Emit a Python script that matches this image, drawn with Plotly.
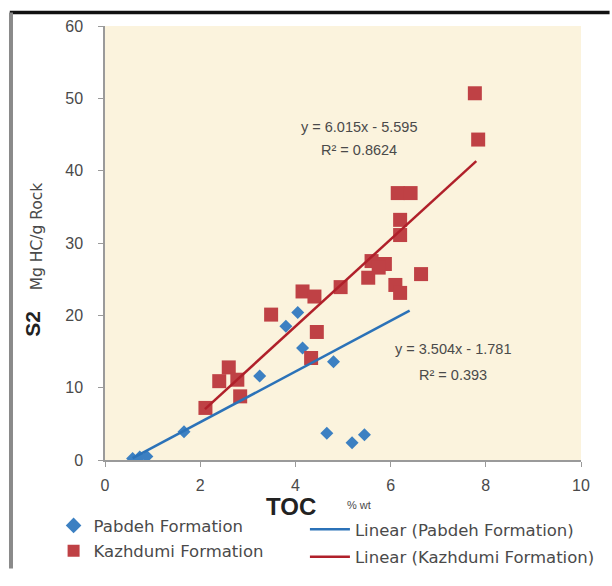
import numpy as np
import plotly.graph_objects as go

# ---- data ----
pabdeh_toc = [0.58, 0.73, 0.88, 1.66, 3.25, 3.8, 4.05, 4.15, 4.33, 4.8, 4.66, 5.19, 5.45]
pabdeh_s2 = [0.2, 0.4, 0.5, 3.9, 11.6, 18.5, 20.4, 15.5, 14.1, 13.6, 3.7, 2.4, 3.5]

kazh_toc = [2.11, 2.4, 2.6, 2.78, 2.84, 3.49, 4.15, 4.4, 4.45, 4.33, 4.95, 5.53, 5.6,
            5.88, 5.75, 6.1, 6.2, 6.64, 6.2, 6.2, 6.15, 6.42, 7.77, 7.84]
kazh_s2 = [7.2, 10.9, 12.8, 11.1, 8.8, 20.1, 23.3, 22.6, 17.7, 14.1, 23.9, 25.2, 27.5,
           27.1, 26.6, 24.2, 23.1, 25.7, 31.1, 33.2, 36.9, 36.9, 50.7, 44.3]

pabdeh_fit = [3.504, -1.781]   # slope, intercept
pabdeh_fit_range = [0.58, 6.4]
kazh_fit = [6.015, -5.595]
kazh_fit_range = [2.1, 7.8]

x_ticks = [0, 2, 4, 6, 8, 10]
y_ticks = [0, 10, 20, 30, 40, 50, 60]

BLUE = "#3C80C2"
RED = "#BF4145"
BLUE_LINE = "#2B72B8"
RED_LINE = "#B0202A"
TXT = "#4a4a4a"
FONT = "Liberation Sans"
LFONT = "DejaVu Sans"

fig = go.Figure()

fig.add_trace(go.Scatter(
    x=pabdeh_toc, y=pabdeh_s2, mode="markers", name="Pabdeh Formation",
    marker=dict(symbol="diamond", size=10, color=BLUE), legend="legend",
    legendgroup="a"))
fig.add_trace(go.Scatter(
    x=kazh_toc, y=kazh_s2, mode="markers", name="Kazhdumi Formation",
    marker=dict(symbol="square", size=14, color=RED), legend="legend",
    legendgroup="b"))

px = np.array(pabdeh_fit_range)
fig.add_trace(go.Scatter(
    x=px, y=pabdeh_fit[0] * px + pabdeh_fit[1], mode="lines",
    name="Linear (Pabdeh Formation)", line=dict(color=BLUE_LINE, width=2.5),
    legend="legend2", legendgroup="c"))
kx = np.array(kazh_fit_range)
fig.add_trace(go.Scatter(
    x=kx, y=kazh_fit[0] * kx + kazh_fit[1], mode="lines",
    name="Linear (Kazhdumi Formation)", line=dict(color=RED_LINE, width=2.5),
    legend="legend2", legendgroup="d"))

ann_font = dict(size=14.5, color=TXT, family=FONT)
fig.add_annotation(x=5.34, y=46.0, xref="x", yref="y", showarrow=False,
                   text="y = 6.015x - 5.595", font=ann_font)
fig.add_annotation(x=5.34, y=42.8, xref="x", yref="y", showarrow=False,
                   text="R² = 0.8624", font=ann_font)
fig.add_annotation(x=7.31, y=15.3, xref="x", yref="y", showarrow=False,
                   text="y = 3.504x - 1.781", font=ann_font)
fig.add_annotation(x=7.31, y=11.8, xref="x", yref="y", showarrow=False,
                   text="R² = 0.393", font=ann_font)

# axis titles
fig.add_annotation(x=-0.154, y=0.313, xref="paper", yref="paper", showarrow=False,
                   xanchor="center", yanchor="middle",
                   text="<b>S2</b>", textangle=-90,
                   font=dict(size=21, color="#222", family=FONT))
fig.add_annotation(x=-0.141, y=0.515, xref="paper", yref="paper", showarrow=False,
                   xanchor="center", yanchor="middle",
                   text="Mg HC/g Rock", textangle=-90,
                   font=dict(size=15.5, color=TXT, family=LFONT))
fig.add_annotation(x=0.39, y=-0.108, xref="paper", yref="paper", showarrow=False,
                   xanchor="center", yanchor="middle",
                   text="<b>TOC</b>", font=dict(size=24, color="#222", family=FONT))
fig.add_annotation(x=0.534, y=-0.104, xref="paper", yref="paper", showarrow=False,
                   xanchor="center", yanchor="middle",
                   text="% wt", font=dict(size=11, color=TXT, family=FONT))

# frame lines of the picture
fig.add_shape(type="line", xref="paper", yref="paper", x0=-0.2, x1=1.06,
              y0=1.031, y1=1.031, line=dict(color="#111", width=3.5))
fig.add_shape(type="line", xref="paper", yref="paper", x0=-0.1975, x1=-0.1975,
              y0=1.031, y1=-0.25, line=dict(color="#8a8a8a", width=4))

fig.update_xaxes(range=[0, 10], tickvals=x_ticks, showgrid=False, zeroline=False,
                 showline=True, linecolor="#9a9a9a", linewidth=1.5,
                 ticks="outside", ticklen=5, tickcolor="#9a9a9a",
                 ticklabelstandoff=5,
                 tickfont=dict(size=16, color=TXT, family=FONT))
fig.update_yaxes(range=[0, 60], tickvals=y_ticks, showgrid=False, zeroline=False,
                 showline=True, linecolor="#9a9a9a", linewidth=1.5,
                 ticks="outside", ticklen=5, tickcolor="#9a9a9a",
                 ticklabelstandoff=12,
                 tickfont=dict(size=16, color=TXT, family=FONT))

fig.update_layout(
    width=612, height=586,
    margin=dict(l=105, r=26, t=26, b=110),
    paper_bgcolor="white", plot_bgcolor="#FBF3DD",
    font=dict(family=FONT, color=TXT),
    legend=dict(x=-0.108, y=-0.111, xanchor="left", yanchor="top",
                bgcolor="rgba(0,0,0,0)", font=dict(size=16.5, color=TXT, family=LFONT),
                tracegroupgap=1, itemsizing="constant"),
    legend2=dict(x=0.42, y=-0.12, xanchor="left", yanchor="top",
                 bgcolor="rgba(0,0,0,0)", font=dict(size=16.5, color=TXT, family=LFONT),
                 tracegroupgap=3, itemwidth=40),
)

fig.write_html("out.html")
